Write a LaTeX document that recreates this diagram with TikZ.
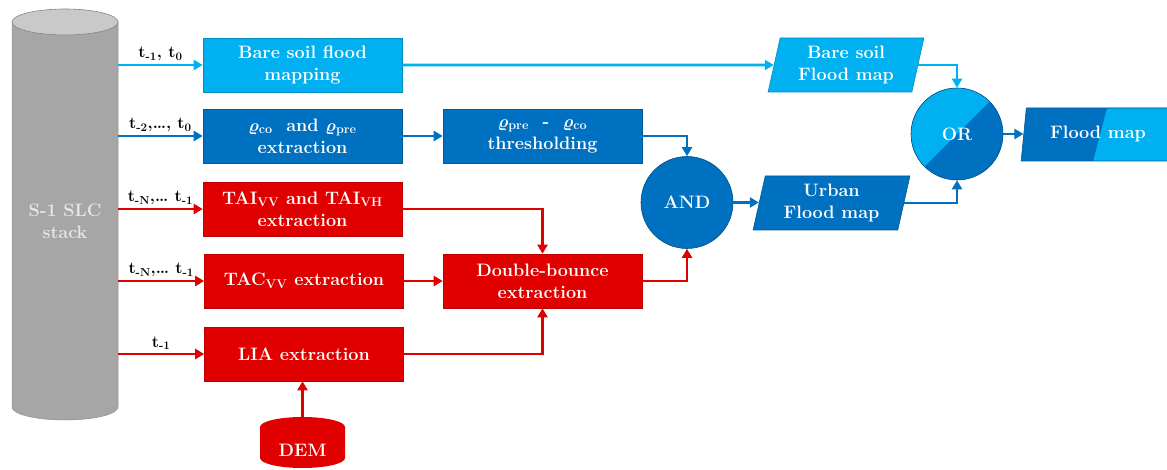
\documentclass[tikz,border=0pt]{standalone}
\usepackage{fontspec}
\usetikzlibrary{arrows.meta,shapes.geometric,calc}
\definecolor{lblue}{HTML}{00B0F0}
\definecolor{dblue}{HTML}{0070C0}
\definecolor{redA}{HTML}{E00000}
\definecolor{cgray}{HTML}{A6A6A6}
\definecolor{ctop}{HTML}{C9C9C9}
\definecolor{ctext}{HTML}{E6E6E6}
\newcommand{\rh}{{\boldmath$\varrho$}}
\begin{document}
\begin{tikzpicture}[x=1pt,y=-1pt,
  txt/.style={text=white, font=\fontsize{18}{22}\selectfont\bfseries, align=center},
  box/.style={txt, rectangle, minimum width=199pt, minimum height=54pt, inner sep=0pt, line width=0.6pt},
  lbox/.style={box, fill=lblue, draw=lblue!80!black},
  bbox/.style={box, fill=dblue, draw=dblue!80!black},
  rbox/.style={box, fill=redA, draw=redA!85!black},
  para/.style={txt, trapezium, trapezium left angle=77, trapezium right angle=103, trapezium stretches=true, minimum width=156pt, minimum height=54pt, inner sep=0pt, line width=0.6pt},
  circ/.style={txt, circle, minimum size=92pt, inner sep=0pt, line width=0.6pt, draw=dblue!70!black},
  arr/.style={line width=2.6pt, -{Triangle[length=9pt,width=10pt]}},
  lab/.style={font=\fontsize{16.5}{19}\selectfont\bfseries, text=black, inner sep=3pt}
]
\useasboundingbox (0,0) rectangle (1167,470);

% S-1 SLC stack cylinder
\filldraw[fill=cgray, draw=cgray!85!black, line width=0.5pt] (12,22) -- (12,407)
  arc[start angle=180, end angle=0, x radius=53, y radius=13] -- (118,22) -- cycle;
\filldraw[fill=ctop, draw=cgray!80!black, line width=0.6pt] (65,22) ellipse[x radius=53, y radius=13];
\node[minimum width=106pt, minimum height=385pt, inner sep=0pt] (s1) at (65,214.5) {};
\node[txt, text=ctext] (s1t) at (65,221) {S-1 SLC\\stack};

% DEM cylinder
\fill[redA] (260,427) -- (260,458)
  arc[start angle=180, end angle=0, x radius=42.5, y radius=10] -- (345,427)
  arc[start angle=0, end angle=-180, x radius=42.5, y radius=10] -- cycle;
\coordinate (demtop) at (302.5,417);
\node[txt] (dem) at (302.5,450) {DEM};

% processing boxes
\node[lbox] (bsm) at (302.5,65) {Bare soil flood\\mapping};
\node[bbox] (rho) at (302.5,136) {\rh\textsubscript{co}\ \ and \rh\textsubscript{pre}\\extraction};
\node[rbox] (tai) at (302.5,209) {TAI\textsubscript{VV} and TAI\textsubscript{VH}\\extraction};
\node[rbox] (tac) at (304,281) {TAC\textsubscript{VV}\ extraction};
\node[rbox] (lia) at (304,354) {LIA extraction};
\node[bbox] (thr) at (542.5,136) {\rh\textsubscript{pre}\ \ -\ \ \rh\textsubscript{co}\\thresholding};
\node[rbox] (db) at (542.5,281) {Double-bounce\\extraction};

% logic and outputs
\node[circ, fill=dblue] (and) at (687,202.5) {AND};
\node[para, fill=lblue, draw=lblue!80!black] (bsf) at (846,65) {Bare soil\\Flood map};
\node[para, fill=dblue, draw=dblue!80!black, minimum width=157pt] (ufm) at (831.5,203) {Urban\\Flood map};
\node[circ, fill=dblue, path picture={\fill[lblue] (path picture bounding box.north west) -- (path picture bounding box.north east) -- (path picture bounding box.south west) -- cycle;}] (or) at (957,134) {OR};
\node[para, fill=dblue, draw=dblue!80!black, minimum width=176pt, minimum height=53pt,
  path picture={\fill[lblue] ($(path picture bounding box.north west)+(86,0)$) -- ($(path picture bounding box.north east)+(10,0)$) -- ($(path picture bounding box.south east)+(10,0)$) -- ($(path picture bounding box.south west)+(72,0)$) -- cycle;}] (fm) at (1109,134.5) {Flood map\rule{22pt}{0pt}};

% inputs from stack
\draw[arr, lblue] (s1.east |- bsm.west) -- node[lab, above]{t\textsubscript{-1}, t\textsubscript{0}} (bsm.west);
\draw[arr, dblue] (s1.east |- rho.west) -- node[lab, above]{t\textsubscript{-2},\dots, t\textsubscript{0}} (rho.west);
\draw[arr, redA] (s1.east |- tai.west) -- node[lab, above]{t\textsubscript{-N},\dots\ t\textsubscript{-1}} (tai.west);
\draw[arr, redA] (s1.east |- tac.west) -- node[lab, above]{t\textsubscript{-N},\dots\ t\textsubscript{-1}} (tac.west);
\draw[arr, redA] (s1.east |- lia.west) -- node[lab, above]{t\textsubscript{-1}} (lia.west);
\draw[arr, redA] (demtop) -- (demtop |- lia.south);

% internal flow
\draw[arr, lblue] (bsm.east) -- (bsf.west);
\draw[arr, lblue] (bsf.east) -| (or.north);
\draw[arr, dblue] (rho.east) -- (thr.west);
\draw[arr, dblue] (thr.east) -| (and.north);
\draw[arr, redA] (tai.east) -| (db.north);
\draw[arr, redA] (tac.east) -- (db.west);
\draw[arr, redA] (lia.east) -| (db.south);
\draw[arr, redA] (db.east) -| (and.south);
\draw[arr, dblue] (and.east) -- (and.east -| ufm.west);
\draw[arr, dblue] (ufm.east) -| (or.south);
\draw[arr, dblue] (or.east) -- (or.east -| fm.west);
\end{tikzpicture}
\end{document}
